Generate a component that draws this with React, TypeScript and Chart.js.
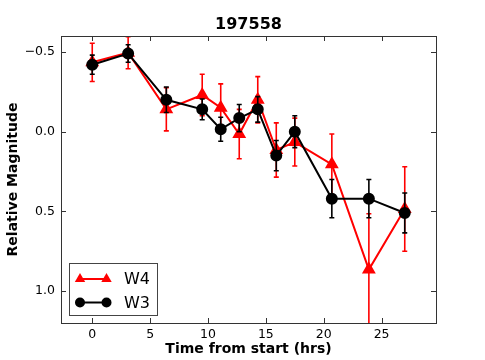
import React, { useEffect, useRef } from "react";
import { Chart, registerables } from "chart.js";

Chart.register(...registerables);

const titleText = "197558";
const xLabel = "Time from start (hrs)";
const yLabel = "Relative Magnitude";
const times = [0.0, 3.1, 6.4, 9.5, 11.1, 12.7, 14.3, 15.9, 17.5, 20.7, 23.9, 27.0];
const w4Values = [-0.435, -0.495, -0.14, -0.23, -0.15, 0.015, -0.2, 0.115, 0.065, 0.205, 0.865, 0.485];
const w4Errors = [0.12, 0.1, 0.135, 0.13, 0.15, 0.155, 0.145, 0.17, 0.15, 0.19, 0.35, 0.265];
const w3Values = [-0.42, -0.49, -0.2, -0.14, -0.015, -0.085, -0.14, 0.15, 0.0, 0.42, 0.42, 0.51];
const w3Errors = [0.06, 0.055, 0.08, 0.065, 0.075, 0.085, 0.08, 0.095, 0.1, 0.12, 0.12, 0.125];
const xTicks = [0, 5, 10, 15, 20, 25];
const yTicks = [-0.5, 0.0, 0.5, 1.0];
const seriesNames = ["W4", "W3"];

const FONT = "'DejaVu Sans', sans-serif";

const errorBarPlugin = {
  id: "errorBars",
  beforeDatasetDraw(chart: any, args: any) {
    const ds = chart.data.datasets[args.index];
    const errs: number[] = ds.errors;
    if (!errs) return;
    const xs = chart.scales.x;
    const ys = chart.scales.y;
    const ctx = chart.ctx;
    const ca = chart.chartArea;
    ctx.save();
    ctx.beginPath();
    ctx.rect(ca.left, ca.top, ca.right - ca.left, ca.bottom - ca.top);
    ctx.clip();
    ctx.strokeStyle = ds.borderColor;
    ctx.lineWidth = 1.6;
    ds.data.forEach((p: any, i: number) => {
      const px = xs.getPixelForValue(p.x);
      const y1 = ys.getPixelForValue(p.y - errs[i]);
      const y2 = ys.getPixelForValue(p.y + errs[i]);
      ctx.beginPath();
      ctx.moveTo(px, y1);
      ctx.lineTo(px, y2);
      ctx.moveTo(px - 2.5, y1);
      ctx.lineTo(px + 2.5, y1);
      ctx.moveTo(px - 2.5, y2);
      ctx.lineTo(px + 2.5, y2);
      ctx.stroke();
    });
    ctx.restore();
  },
};

const decorPlugin = {
  id: "decor",
  afterDraw(chart: any) {
    const ctx = chart.ctx;
    const ca = chart.chartArea;
    const xs = chart.scales.x;
    const ys = chart.scales.y;
    ctx.save();
    // frame
    ctx.strokeStyle = "#333";
    ctx.lineWidth = 1;
    ctx.strokeRect(Math.round(ca.left) + 0.5, Math.round(ca.top) + 0.5, Math.round(ca.right - ca.left), Math.round(ca.bottom - ca.top));
    // inward ticks
    const tl = 5;
    ctx.beginPath();
    xTicks.forEach((t) => {
      const px = Math.round(xs.getPixelForValue(t)) + 0.5;
      ctx.moveTo(px, ca.bottom);
      ctx.lineTo(px, ca.bottom - tl);
      ctx.moveTo(px, ca.top);
      ctx.lineTo(px, ca.top + tl);
    });
    yTicks.forEach((t) => {
      const py = Math.round(ys.getPixelForValue(t)) + 0.5;
      ctx.moveTo(ca.left, py);
      ctx.lineTo(ca.left + tl, py);
      ctx.moveTo(ca.right, py);
      ctx.lineTo(ca.right - tl, py);
    });
    ctx.stroke();
    // title
    ctx.fillStyle = "#000";
    ctx.textAlign = "center";
    ctx.textBaseline = "middle";
    ctx.font = `bold 16px ${FONT}`;
    ctx.fillText(titleText, (ca.left + ca.right) / 2, 25);
    // axis titles
    ctx.font = `bold 14px ${FONT}`;
    ctx.fillText(xLabel, (ca.left + ca.right) / 2, 349);
    ctx.save();
    ctx.translate(13, (ca.top + ca.bottom) / 2);
    ctx.rotate(-Math.PI / 2);
    ctx.fillText(yLabel, 0, 0);
    ctx.restore();
    // legend
    const lx = 69.5, ly = 263.5, lw = 88, lh = 52;
    ctx.fillStyle = "#fff";
    ctx.fillRect(lx, ly, lw, lh);
    ctx.strokeStyle = "#444";
    ctx.strokeRect(lx, ly, lw, lh);
    const rows = [279, 302.5];
    chart.data.datasets.forEach((ds: any, i: number) => {
      const ry = rows[i];
      ctx.strokeStyle = ds.borderColor;
      ctx.fillStyle = ds.backgroundColor;
      ctx.lineWidth = 2;
      ctx.beginPath();
      ctx.moveTo(80, ry);
      ctx.lineTo(106.5, ry);
      ctx.stroke();
      [80, 106.5].forEach((mx) => {
        ctx.beginPath();
        if (ds.pointStyle === "triangle") {
          const r = 6;
          ctx.moveTo(mx, ry - r);
          ctx.lineTo(mx + r * 0.866, ry + r * 0.5);
          ctx.lineTo(mx - r * 0.866, ry + r * 0.5);
          ctx.closePath();
        } else {
          ctx.arc(mx, ry, 5, 0, Math.PI * 2);
        }
        ctx.fill();
      });
      ctx.fillStyle = "#000";
      ctx.textAlign = "left";
      ctx.textBaseline = "middle";
      ctx.font = `16px ${FONT}`;
      ctx.fillText(seriesNames[i], 124, ry + 1);
    });
    ctx.restore();
  },
};

export default function App() {
  const ref = useRef<HTMLCanvasElement | null>(null);
  useEffect(() => {
    if (!ref.current) return;
    const chart = new Chart(ref.current, {
      type: "line",
      data: {
        datasets: [
          {
            label: seriesNames[0],
            data: times.map((t, i) => ({ x: t, y: w4Values[i] })),
            errors: w4Errors,
            borderColor: "#ff0000",
            backgroundColor: "#ff0000",
            borderWidth: 2,
            pointStyle: "triangle",
            pointRadius: 6,
            pointHoverRadius: 6,
            order: 1,
          } as any,
          {
            label: seriesNames[1],
            data: times.map((t, i) => ({ x: t, y: w3Values[i] })),
            errors: w3Errors,
            borderColor: "#000000",
            backgroundColor: "#000000",
            borderWidth: 2,
            pointStyle: "circle",
            pointRadius: 5,
            pointHoverRadius: 5,
            order: 0,
          } as any,
        ],
      },
      options: {
        responsive: false,
        animation: false,
        devicePixelRatio: 1,
        layout: { padding: { left: 0, top: 36, right: 49, bottom: 0 } },
        plugins: { legend: { display: false }, tooltip: { enabled: false }, title: { display: false } },
        scales: {
          x: {
            type: "linear",
            min: -2.7,
            max: 29.7,
            grid: { display: false, drawTicks: false },
            border: { display: false },
            ticks: { color: "#000", font: { family: FONT, size: 12.5 }, padding: 4, autoSkip: false, maxRotation: 0 },
            afterBuildTicks: (s: any) => { s.ticks = xTicks.map((v) => ({ value: v })); },
            afterFit: (s: any) => { s.height = 37; },
          },
          y: {
            type: "linear",
            reverse: true,
            min: -0.6,
            max: 1.2,
            grid: { display: false, drawTicks: false },
            border: { display: false },
            ticks: {
              color: "#000",
              font: { family: FONT, size: 12.5 },
              padding: 6,
              autoSkip: false,
              callback: (v: any) => { const n = Number(v); return (n < 0 ? "\u2212" : "") + Math.abs(n).toFixed(1); },
            },
            afterBuildTicks: (s: any) => { s.ticks = yTicks.map((v) => ({ value: v })); },
            afterFit: (s: any) => { s.width = 61; },
          },
        },
      },
      plugins: [errorBarPlugin, decorPlugin],
    } as any);
    return () => chart.destroy();
  }, []);
  return (
    <div style={{ position: "fixed", left: 0, top: 0, width: 485, height: 360, background: "#fff" }}>
      <canvas ref={ref} width={485} height={360} style={{ display: "block" }} />
    </div>
  );
}
